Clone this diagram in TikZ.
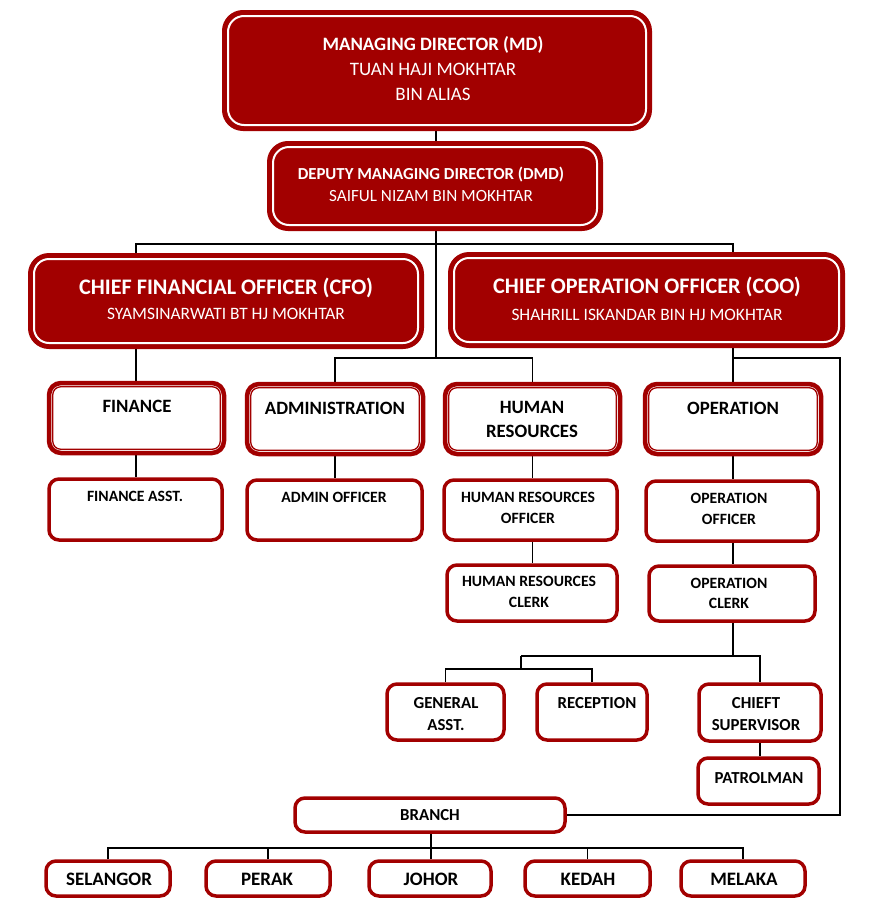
\documentclass[tikz,border=0pt]{standalone}
\usepackage{fontspec}
\setmainfont{Carlito}
\usetikzlibrary{backgrounds}
\definecolor{dred}{RGB}{162,0,0}
\newcommand{\BoxAt}[6]{\node[#1, minimum width={#4-#2}, minimum height={#5-#3}] (#6) at ({(#2+#4)/2},{(#3+#5)/2}) {};}
\newcommand{\InLine}[4]{\draw[#1, rounded corners=#3] ([xshift=#2,yshift=-#2]#4.north west) rectangle ([xshift=-#2,yshift=#2]#4.south east);}
\begin{document}
\begin{tikzpicture}[x=1pt,y=-1pt,
  topbox/.style={rectangle, rounded corners=20pt, fill=dred, draw=dred, line width=2pt, inner sep=0pt},
  deptbox/.style={rectangle, rounded corners=12pt, fill=white, draw=dred, line width=4.5pt, inner sep=0pt},
  smallbox/.style={rectangle, rounded corners=10pt, fill=white, draw=dred, line width=3.5pt, inner sep=0pt},
  wline/.style={draw=white, line width=2pt},
  rline/.style={draw=dred, line width=1.3pt},
  conn/.style={draw=black, line width=1.1pt},
  lb/.style={inner sep=0pt, anchor=base},
  mdb/.style={lb, text=white, font=\fontsize{18.9pt}{22pt}\selectfont\bfseries},
  mdr/.style={lb, text=white, font=\fontsize{19pt}{22pt}\selectfont},
  dmdb/.style={lb, text=white, font=\fontsize{16.8pt}{20pt}\selectfont\bfseries},
  dmdr/.style={lb, text=white, font=\fontsize{17.1pt}{20pt}\selectfont},
  cb/.style={lb, text=white, font=\fontsize{22.2pt}{26pt}\selectfont\bfseries},
  cr/.style={lb, text=white, font=\fontsize{17.4pt}{20pt}\selectfont},
  dt/.style={lb, text=black, font=\fontsize{18.8pt}{22pt}\selectfont\bfseries},
  st/.style={lb, text=black, font=\fontsize{15.7pt}{19pt}\selectfont\bfseries},
  sl/.style={lb, text=black, font=\fontsize{16.8pt}{20pt}\selectfont\bfseries},
  bt/.style={lb, text=black, font=\fontsize{19pt}{22pt}\selectfont\bfseries},
]
\useasboundingbox (0,0) rectangle (879,913);

% top boxes
\BoxAt{topbox}{223}{11}{651}{130}{md}
\InLine{wline}{6pt}{16pt}{md}
\BoxAt{topbox}{268}{142}{602}{230}{dmd}
\InLine{wline}{6pt}{16pt}{dmd}
\BoxAt{topbox}{29}{254}{423}{348}{cfo}
\InLine{wline}{6pt}{15pt}{cfo}
\BoxAt{topbox}{449}{253}{844}{347}{coo}
\InLine{wline}{6pt}{15pt}{coo}

% departments
\BoxAt{deptbox}{49}{383}{224}{453}{fin}
\InLine{rline}{6pt}{8pt}{fin}
\BoxAt{deptbox}{247}{384}{423}{454}{adm}
\InLine{rline}{6pt}{8pt}{adm}
\BoxAt{deptbox}{445}{384}{620}{454}{hr}
\InLine{rline}{6pt}{8pt}{hr}
\BoxAt{deptbox}{645}{384}{821}{454}{opn}
\InLine{rline}{6pt}{8pt}{opn}

% small boxes
\BoxAt{smallbox}{49}{479}{222}{540}{fina}
\BoxAt{smallbox}{247}{480}{422}{540}{admo}
\BoxAt{smallbox}{444}{480}{617}{540}{hro}
\BoxAt{smallbox}{447}{565}{617}{621}{hrc}
\BoxAt{smallbox}{646}{481}{818}{541}{opo}
\BoxAt{smallbox}{649}{566}{815}{621}{opc}
\BoxAt{smallbox}{387}{684}{504}{740}{gen}
\BoxAt{smallbox}{537}{684}{647}{740}{rec}
\BoxAt{smallbox}{699}{684}{821}{741}{chf}
\BoxAt{smallbox}{698}{758}{819}{804}{pat}
\BoxAt{smallbox}{295}{798}{565}{832}{br}
\BoxAt{smallbox}{46}{861}{170}{896}{sel}
\BoxAt{smallbox}{206}{861}{330}{896}{per}
\BoxAt{smallbox}{369}{861}{491}{896}{joh}
\BoxAt{smallbox}{525}{861}{650}{896}{ked}
\BoxAt{smallbox}{681}{861}{805}{896}{mel}

% connectors
\coordinate (spine) at (436,358);
\coordinate (barL) at (136,244);
\coordinate (barR) at (733,244);
\coordinate (rc) at (840,358);
\coordinate (b1) at (521,656);
\coordinate (b2) at (521,669);
\coordinate (b3) at (431,848);
\begin{scope}[on background layer]
\draw[conn] (md.south -| spine) -- (spine);
\draw[conn] (barL |- fin.north) -- (barL) -- (barR) -- (barR |- opn.north);
\draw[conn] (adm.north) |- (spine) -| (hr.north);
\draw[conn] (barR |- rc) -- (rc) |- (br.east);
\draw[conn] (barL |- fin.south) -- (barL |- fina.north);
\draw[conn] (adm.south) -- (adm.south |- admo.north);
\draw[conn] (hr.south) -- (hr.south |- hro.north);
\draw[conn] (hr.south |- hro.south) -- (hr.south |- hrc.north);
\draw[conn] (opn.south) -- (opn.south |- opo.north);
\draw[conn] (opn.south |- opo.south) -- (opn.south |- opc.north);
\draw[conn] (opn.south |- opc.south) |- (b1);
\draw[conn] (b1) -- (b2);
\draw[conn] (gen.north) |- (b2) -| (rec.north);
\draw[conn] (opn.south |- b1) -| (chf.north);
\draw[conn] (chf.south) -- (chf.south |- pat.north);
\draw[conn] (br.south -| b3) -- (b3);
\draw[conn] (sel.north) |- (b3) -| (mel.north);
\draw[conn] (per.north) -- (per.north |- b3);
\draw[conn] (joh.north -| b3) -- (b3);
\draw[conn] (ked.north) -- (ked.north |- b3);
\end{scope}

% texts
\node[mdb] (t1) at (433,50) {MANAGING DIRECTOR (MD)};
\node[mdr] (t2) at (433,75) {TUAN HAJI MOKHTAR};
\node[mdr] (t3) at (433,100) {BIN ALIAS};
\node[dmdb] (t4) at (431,179) {DEPUTY MANAGING DIRECTOR (DMD)};
\node[dmdr] (t5) at (431,201) {SAIFUL NIZAM BIN MOKHTAR};
\node[cb] (t6) at (226,294) {CHIEF FINANCIAL OFFICER (CFO)};
\node[cr] (t7) at (226,319) {SYAMSINARWATI BT HJ MOKHTAR};
\node[cb] (t8) at (647,293) {CHIEF OPERATION OFFICER (COO)};
\node[cr] (t9) at (647,320) {SHAHRILL ISKANDAR BIN HJ MOKHTAR};

\node[dt] (t10) at (137,412) {FINANCE};
\node[dt] (t11) at (335,414) {ADMINISTRATION};
\node[dt] (t12) at (532,413) {HUMAN};
\node[dt] (t13) at (532,437) {RESOURCES};
\node[dt] (t14) at (733,414) {OPERATION};

\node[st] (t15) at (135,501) {FINANCE ASST.};
\node[st] (t16) at (334,502) {ADMIN OFFICER};
\node[st] (t17) at (528,502) {HUMAN RESOURCES};
\node[st] (t18) at (528,523) {OFFICER};
\node[st] (t19) at (529,586) {HUMAN RESOURCES};
\node[st] (t20) at (529,607) {CLERK};
\node[st] (t21) at (729,503) {OPERATION};
\node[st] (t22) at (729,524) {OFFICER};
\node[st] (t23) at (729,588) {OPERATION};
\node[st] (t24) at (729,608) {CLERK};
\node[sl] (t25) at (446,708) {GENERAL};
\node[sl] (t26) at (446,730) {ASST.};
\node[sl] (t27) at (597,708) {RECEPTION};
\node[sl] (t28) at (756,708) {CHIEFT};
\node[sl] (t29) at (756,730) {SUPERVISOR};
\node[sl] (t30) at (759,783) {PATROLMAN};
\node[sl] (t31) at (430,820) {BRANCH};
\node[bt] (t32) at (109,885) {SELANGOR};
\node[bt] (t33) at (267,885) {PERAK};
\node[bt] (t34) at (431,885) {JOHOR};
\node[bt] (t35) at (588,885) {KEDAH};
\node[bt] (t36) at (744,885) {MELAKA};
\end{tikzpicture}
\end{document}
